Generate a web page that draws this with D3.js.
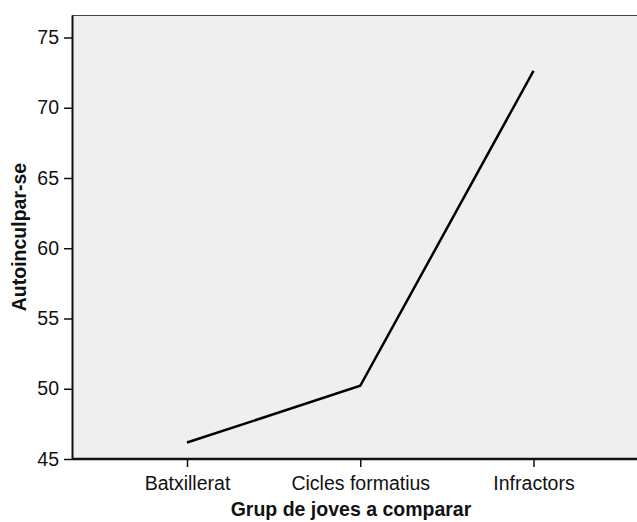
<!DOCTYPE html>
<html><head><meta charset="utf-8">
<script src="https://cdn.jsdelivr.net/npm/d3@7"></script>
<style>body{margin:0;background:#fff;} svg text{font-family:"Liberation Sans",Arial,sans-serif;}</style>
</head><body>
<svg id="c" width="637" height="522"></svg>
<script>
const categories = ["Batxillerat", "Cicles formatius", "Infractors"];
const values = [46.17, 50.21, 72.62];
const yTicks = [45, 50, 55, 60, 65, 70, 75];
const xTitle = "Grup de joves a comparar";
const yTitle = "Autoinculpar-se";

const svg = d3.select("#c");
const mLeft = 72, mTop = 15, mRight = 637, mBottom = 459;

const x = d3.scalePoint().domain(categories).range([187, 533.5]);
const y = d3.scaleLinear().domain([45, 76.6]).range([mBottom, mTop]);

svg.append("rect").attr("x", mLeft).attr("y", mTop).attr("width", mRight - mLeft + 5).attr("height", mBottom - mTop)
  .attr("fill", "#efefef");
svg.append("line").attr("x1", mLeft).attr("x2", mRight).attr("y1", mTop + 0.5).attr("y2", mTop + 0.5)
  .attr("stroke", "#444").attr("stroke-width", 1);

const yAxis = svg.append("g").attr("transform", `translate(${mLeft},0)`)
  .call(d3.axisLeft(y).tickValues(yTicks).tickSize(8).tickPadding(5).tickSizeOuter(0));
yAxis.select(".domain").attr("stroke", "#111").attr("stroke-width", 2);
yAxis.selectAll(".tick line").attr("stroke", "#111").attr("stroke-width", 1.5);
yAxis.selectAll("text").attr("font-size", 19.5).attr("fill", "#111");

const xAxis = svg.append("g").attr("transform", `translate(0,${mBottom})`)
  .call(d3.axisBottom(x).tickSize(8).tickPadding(9).tickSizeOuter(0));
xAxis.select(".domain").attr("d", `M${mLeft},0H${mRight}`).attr("stroke", "#111").attr("stroke-width", 2.5);
xAxis.selectAll(".tick line").attr("stroke", "#111").attr("stroke-width", 1.5);
xAxis.selectAll("text").attr("font-size", 19.5).attr("fill", "#111");

const line = d3.line().x((d, i) => x(categories[i])).y(d => y(d));
svg.append("path").datum(values).attr("d", line).attr("fill", "none")
  .attr("stroke", "#000").attr("stroke-width", 2.5);

svg.append("text").attr("x", 351).attr("y", 516).attr("text-anchor", "middle")
  .attr("font-size", 19.5).attr("font-weight", "bold").attr("fill", "#111").text(xTitle);
svg.append("text").attr("transform", `translate(26,${(mTop + mBottom) / 2}) rotate(-90)`)
  .attr("text-anchor", "middle").attr("font-size", 19.5).attr("font-weight", "bold").attr("fill", "#111").text(yTitle);
</script>
</body></html>
